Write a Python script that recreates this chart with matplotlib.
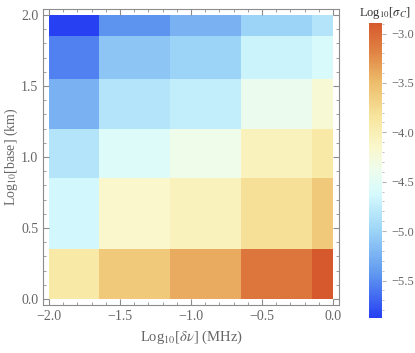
import numpy as np
import matplotlib.pyplot as plt
from matplotlib.colors import LinearSegmentedColormap
from matplotlib.ticker import MultipleLocator

plt.rcParams['font.family'] = ['Liberation Serif', 'DejaVu Serif']
plt.rcParams['mathtext.fontset'] = 'stix'

# cell edges
x_edges = [-2.0, -1.65, -1.15, -0.65, -0.15, 0.0]
y_edges = [0.0, 0.35, 0.85, 1.2, 1.55, 1.85, 2.0]

# Log10[sigma_C], rows from bottom (y=0) to top (y=2)
sigma_row0 = [-3.9, -3.6, -3.4, -3.1, -2.89]
sigma_row1 = [-4.65, -4.15, -4.05, -3.8, -3.6]
sigma_row2 = [-4.85, -4.55, -4.35, -4.05, -3.9]
sigma_row3 = [-5.25, -4.85, -4.75, -4.4, -4.2]
sigma_row4 = [-5.55, -5.1, -5.0, -4.7, -4.6]
sigma_row5 = [-5.88, -5.45, -5.25, -5.0, -4.85]

Z = np.array([sigma_row0, sigma_row1, sigma_row2, sigma_row3, sigma_row4, sigma_row5])

cmap = LinearSegmentedColormap.from_list("temp", [
    (0.0, (0.15, 0.25, 0.95)),
    (0.15, (0.38, 0.60, 0.94)),
    (0.3, (0.62, 0.84, 0.97)),
    (0.42, (0.84, 0.98, 0.99)),
    (0.5, (0.93, 0.99, 0.93)),
    (0.58, (0.98, 0.97, 0.80)),
    (0.68, (0.97, 0.90, 0.62)),
    (0.8, (0.93, 0.74, 0.42)),
    (0.9, (0.88, 0.52, 0.27)),
    (1.0, (0.84, 0.35, 0.18)),
])

gray = (0.4, 0.4, 0.4)
fig = plt.figure(figsize=(4.15, 3.53), dpi=100)
ax = fig.add_axes([0.1036, 0.136, 0.7133, 0.8385])
mesh = ax.pcolormesh(x_edges, y_edges, Z, cmap=cmap, vmin=Z.min(), vmax=Z.max())
ax.set_xlim(-2.042, 0.042)
ax.set_ylim(-0.042, 2.042)

for s in ax.spines.values():
    s.set_color((0.55, 0.55, 0.55))
ax.xaxis.set_major_locator(MultipleLocator(0.5))
ax.xaxis.set_minor_locator(MultipleLocator(0.1))
ax.yaxis.set_major_locator(MultipleLocator(0.5))
ax.yaxis.set_minor_locator(MultipleLocator(0.1))
ax.tick_params(which='both', direction='in', top=True, right=True, color=(0.55, 0.55, 0.55),
               labelcolor=gray, labelsize=10)
ax.tick_params(which='major', length=4)
ax.tick_params(which='minor', length=2)
ax.set_xticks([-2.0, -1.5, -1.0, -0.5, 0.0])
ax.set_xticklabels(["\u22122.0", "\u22121.5", "\u22121.0", "\u22120.5", "0.0"])
ax.set_yticks([0.0, 0.5, 1.0, 1.5, 2.0])
ax.set_yticklabels(["0.0", "0.5", "1.0", "1.5", "2.0"])
ax.set_xlabel(r"Log$_{10}$[$\delta\nu$] (MHz)", color=gray, fontsize=10.5, labelpad=4)
ax.set_ylabel(r"Log$_{10}$[base] (km)", color=gray, fontsize=10, va='center')
ax.yaxis.set_label_coords(-0.108, 0.5)

cax = fig.add_axes([0.889, 0.099, 0.0313, 0.8367])
cb = fig.colorbar(mesh, cax=cax)
cb.outline.set_visible(False)
cb.set_ticks([-3.0, -3.5, -4.0, -4.5, -5.0, -5.5])
cb.set_ticklabels(["\u22123.0", "\u22123.5", "\u22124.0", "\u22124.5", "\u22125.0", "\u22125.5"])
cb.ax.yaxis.set_minor_locator(MultipleLocator(0.1))
cb.ax.tick_params(which='both', color=(0.7, 0.7, 0.7), labelcolor=gray, labelsize=9)
cb.ax.tick_params(which='major', length=3)
cb.ax.tick_params(which='minor', length=1.5)
fig.text(0.928, 0.985, r"Log$_{10}$[$\sigma_C$]", ha='center', va='top', color=(0.2, 0.2, 0.2), fontsize=9)

fig.savefig("out.png", dpi=100)
